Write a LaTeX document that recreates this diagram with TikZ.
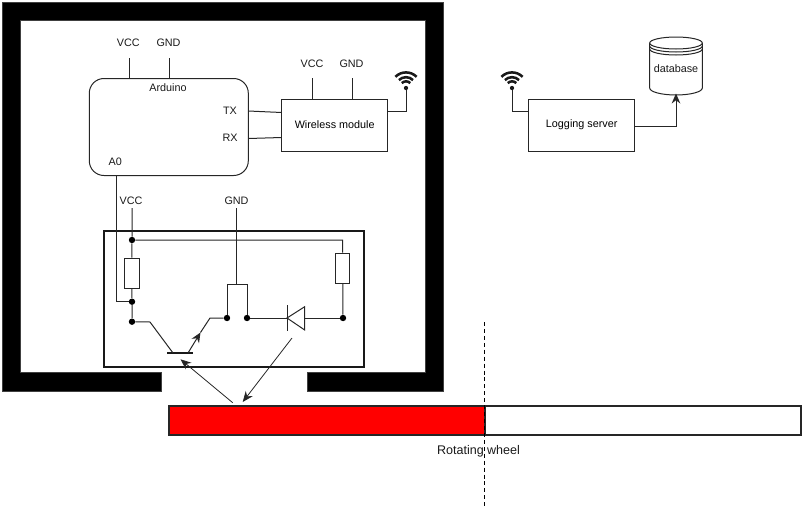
\documentclass[tikz,border=0pt]{standalone}
\usepackage{fontspec}
\setmainfont{Liberation Sans}
\usetikzlibrary{arrows.meta,calc}
\tikzset{
  wire/.style={line width=0.75pt,draw=black!85},
  arr/.style={wire,-{Stealth[length=7.5pt,width=6.5pt]}},
  thinarr/.style={line width=0.6pt,draw=black!85,-{Stealth[length=8pt,width=6.5pt]}},
  boxn/.style={draw=black!85,line width=0.75pt,inner sep=0,fill=white,minimum width=#1*0.75pt,minimum height=52*0.75pt,font=\fontsize{8.1}{10}\selectfont},
  lbl/.style={inner sep=0,font=\fontsize{8.1}{10}\selectfont,text=black!90},
  dot/.style={circle,fill=black,inner sep=0,minimum size=4.8pt},
  wall/.style={fill=black,draw=black!75,line width=0.5pt},
  res/.style={draw=black!85,line width=0.75pt,fill=white,inner sep=0,minimum width=14.5*0.75pt,minimum height=30*0.75pt},
  wave/.style={line width=1.9pt,draw=black!90},
}
\newcommand{\wifisign}[1]{%
  \fill[black!90] (#1) circle (1.6pt);
  \draw[wave] ($(#1)+(-4.2,-4.9)$) arc[start angle=135,end angle=45,radius=6*0.75pt];
  \draw[wave] ($(#1)+(-7.1,-7.9)$) arc[start angle=135,end angle=45,radius=10*0.75pt];
  \draw[wave] ($(#1)+(-10.6,-11.2)$) arc[start angle=135,end angle=45,radius=15*0.75pt];
}
\begin{document}
\begin{tikzpicture}[x=0.75pt,y=-0.75pt]
\useasboundingbox (0,0) rectangle (803,511);
% walls
\path[wall] (2,2) -- (443,2) -- (443,391) -- (307.5,391) -- (307.5,372) -- (425,372) -- (425,20) -- (20,20) -- (20,372) -- (161.5,372) -- (161.5,391) -- (2,391) -- cycle;
% wheel
\draw[line width=1.5pt,draw=black!85,fill=red] (169,405.5) rectangle (484.7,434.5);
\draw[line width=1.5pt,draw=black!85,fill=white] (484.7,405.5) rectangle (800.7,434.5);
\coordinate (dashA) at (484.7,322);
\coordinate (dashB) at (484.7,506);
\draw[line width=0.75pt,dash pattern=on 3pt off 2.2pt,draw=black] (dashA) -- (dashB);
\node[inner sep=0,font=\fontsize{9.4}{11}\selectfont,text=black!90] (wheel) at (478.5,451.3) {Rotating wheel};
% sensor enclosure
\node[draw=black!90,line width=1.35pt,inner sep=0,minimum width=259.6*0.75pt,minimum height=135.6*0.75pt] (sensor) at (234,299) {};
% arduino
\node[draw=black!85,line width=0.75pt,rounded corners=11pt,inner sep=0,minimum width=159*0.75pt,minimum height=97*0.75pt] (arduino) at (168.8,127) {};
\node[lbl] (ardlabel) at (168,87.5) {Arduino};
\node[lbl] (tx) at (230,110.7) {TX};
\node[lbl] (rx) at (230,137.7) {RX};
\node[lbl] (a0) at (115.3,161.7) {A0};
\node[lbl] (vcca) at (128.3,42.7) {VCC};
\node[lbl] (gnda) at (168.5,42.7) {GND};
\coordinate (vccaS) at (129,58);
\coordinate (gndaS) at (169,58);
\draw[wire] (vccaS) -- (vccaS |- arduino.north);
\draw[wire] (gndaS) -- (gndaS |- arduino.north);
% wireless
\node[boxn=106] (wm) at (334.7,125) {Wireless module};
\node[lbl] (vccw) at (312,63.7) {VCC};
\node[lbl] (gndw) at (351.5,63.7) {GND};
\coordinate (vccwS) at (312.7,78);
\coordinate (gndwS) at (352.3,78);
\draw[wire] (vccwS) -- (vccwS |- wm.north);
\draw[wire] (gndwS) -- (gndwS |- wm.north);
\coordinate (txS) at (248.3,111);
\coordinate (txE) at (281.7,112.5);
\coordinate (rxS) at (248.3,138.5);
\coordinate (rxE) at (281.7,137.5);
\draw[wire] (txS) -- (txE);
\draw[wire] (rxS) -- (rxE);
\coordinate (wifiA) at (406,88);
\draw[wire] (wm.east |- 0,111) -- (406,111) -- (wifiA);
\wifisign{wifiA}
% logging server
\node[boxn=106] (srv) at (581.7,125) {Logging server};
\coordinate (wifiB) at (512,88);
\draw[wire] (srv.west |- 0,111) -- (512,111) -- (wifiB);
\wifisign{wifiB}
% database
\draw[wire,fill=white] (649.7,43) -- (649.7,88) arc[start angle=180,end angle=360,x radius=26.3,y radius=-7] -- (702.3,43);
\draw[wire,fill=white] (676,43) ellipse[x radius=26.3,y radius=6];
\draw[wire] (649.7,46) arc[start angle=180,end angle=360,x radius=26.3,y radius=-6];
\draw[wire] (649.7,49) arc[start angle=180,end angle=360,x radius=26.3,y radius=-6];
\node[lbl] (db) at (676,69) {database};
\coordinate (dbin) at (676,93.5);
\draw[arr] (srv.east |- 0,126) -- (676,126) -- (dbin);
% circuit
\node[lbl] (vccs) at (131,200.7) {VCC};
\node[lbl] (gnds) at (236.5,200.7) {GND};
\coordinate (vccsS) at (132,208);
\coordinate (gndsS) at (236,208);
\node[dot] (n1) at (132,240) {};
\node[dot] (n2) at (132,301.7) {};
\node[dot] (n3) at (132,321.7) {};
\node[dot] (n4) at (227,318) {};
\node[dot] (n5) at (247,318) {};
\node[dot] (n6) at (343,318) {};
\node[res] (r1) at (131.8,273) {};
\node[res] (r2) at (342.7,268) {};
\draw[wire] (vccsS) -- (n1) -- (r1) -- (n2) -- (n3);
\draw[wire] (116,175.5) -- (116,301.7) -- (n2);
\draw[wire] (n1) -- (342.7,240) -- (r2) -- (n6);
\draw[wire] (gndsS) -- (236,284);
\draw[wire] (n4) -- (227,284) -- (247,284) -- (n5);
\coordinate (dA) at (287,318);
\coordinate (dB) at (304.7,318);
\draw[wire] (n5) -- (dA);
\draw[wire] (dB) -- (n6);
\draw[wire] (dA) -- (304.7,306.7) -- (304.7,330) -- cycle;
\draw[wire] (287,305) -- (287,330.5);
% transistor
\draw[line width=1pt,draw=black!90] (167.3,353) -- (193.3,353);
\draw[wire] (n3) -- (150,322) -- (173,353);
\coordinate (tm) at (200.5,332.5);
\draw[arr] (188,353) -- (tm);
\draw[wire] (tm) -- (210,318) -- (n4);
% light arrows
\coordinate (refl) at (232.7,402.7);
\coordinate (emit) at (292,338);
\coordinate (wheelhit) at (242.7,402);
\draw[thinarr] (refl) -- (180.5,359.3);
\draw[thinarr] (emit) -- (wheelhit);
\end{tikzpicture}
\end{document}
